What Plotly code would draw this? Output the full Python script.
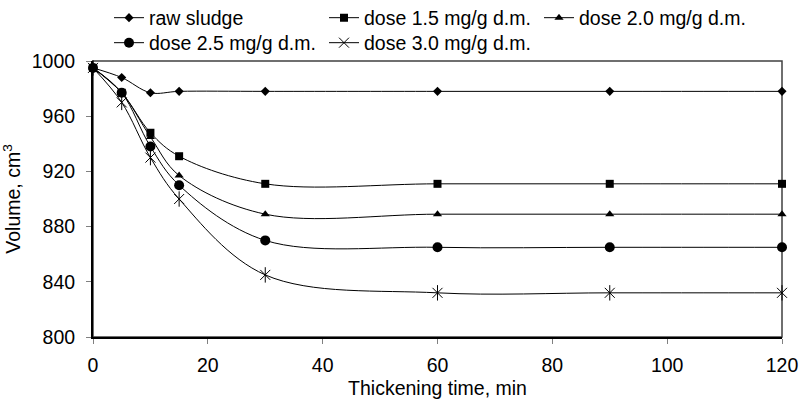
import plotly.graph_objects as go

time_min = [0, 5, 10, 15, 30, 60, 90, 120]
raw_sludge = [995, 988, 977, 978, 978, 978, 978, 978]
dose_1_5 = [995, 977, 948, 931, 911, 911, 911, 911]
dose_2_0 = [995, 977, 945, 917, 889, 889, 889, 889]
dose_2_5 = [995, 977, 938, 910, 870, 865, 865, 865]
dose_3_0 = [995, 970, 930, 900, 845, 832, 832, 832]

series_names = ["raw sludge", "dose 1.5 mg/g d.m.", "dose 2.0 mg/g d.m.",
                "dose 2.5 mg/g d.m.", "dose 3.0 mg/g d.m."]

x_ticks = [0, 20, 40, 60, 80, 100, 120]
y_ticks = [800, 840, 880, 920, 960, 1000]

FONT = "Liberation Sans, Arial, sans-serif"
FS = 19.5

fig = go.Figure()

line_style = dict(color="black", width=1, shape="spline", smoothing=1)

specs = [
    (raw_sludge, series_names[0], dict(symbol="diamond", size=7, color="black"), "legend"),
    (dose_1_5, series_names[1], dict(symbol="square", size=8, color="black"), "legend"),
    (dose_2_0, series_names[2], dict(symbol="triangle-up", size=8, color="black"), "legend"),
    (dose_2_5, series_names[3], dict(symbol="circle", size=10, color="black"), "legend2"),
    (dose_3_0, series_names[4], dict(symbol="x-thin-open", size=10, color="black",
                                     line=dict(color="black", width=1)), "legend2"),
]

for vals, name, marker, leg in specs:
    fig.add_trace(go.Scatter(x=time_min, y=vals, name=name, mode="lines+markers",
                             line=line_style, marker=marker, legend=leg, cliponaxis=False))

# vertical stroke of the star marker for dose 3.0
fig.add_trace(go.Scatter(x=time_min, y=dose_3_0, mode="markers", showlegend=False,
                         legend="legend2", cliponaxis=False,
                         marker=dict(symbol="line-ns-open", size=11, color="black",
                                     line=dict(color="black", width=1))))

legend_common = dict(orientation="h", xref="container", yref="container",
                     xanchor="left", yanchor="middle",
                     font=dict(family=FONT, size=FS, color="black"),
                     bgcolor="rgba(0,0,0,0)", entrywidth=170, entrywidthmode="pixels",
                     itemwidth=30, tracegroupgap=0)

fig.update_layout(
    width=801, height=400,
    margin=dict(l=93, r=19, t=61, b=63, autoexpand=False),
    paper_bgcolor="white", plot_bgcolor="white",
    font=dict(family=FONT, size=FS, color="black"),
    legend=dict(x=109 / 801, y=1 - 18 / 400, **legend_common),
    legend2=dict(x=109 / 801, y=1 - 43 / 400, **legend_common),
    xaxis=dict(range=[0, 120], tickvals=x_ticks, ticks="outside", ticklen=5,
               tickcolor="#808080", tickwidth=1, showline=True, linecolor="black",
               linewidth=2, showgrid=False, zeroline=False, automargin=False,
               ticklabelstandoff=5,
               title=dict(text="Thickening time, min", standoff=6,
                          font=dict(family=FONT, size=FS))),
    yaxis=dict(range=[800, 1000], tickvals=y_ticks, ticks="outside", ticklen=5,
               tickcolor="#808080", tickwidth=1, showline=True, linecolor="black",
               linewidth=2, showgrid=False, zeroline=False, automargin=False,
               ticklabelstandoff=7,
               title=dict(text="Volume, cm<sup>3</sup>", standoff=6,
                          font=dict(family=FONT, size=FS))),
    shapes=[dict(type="rect", xref="paper", yref="paper", x0=0, x1=1, y0=0, y1=1,
                 line=dict(color="#404040", width=1.5), layer="below")],
)

fig.write_html("out.html", config={"displayModeBar": False})

# remove the browser's default page margin so the figure sits at the window's corner
with open("out.html", "r", encoding="utf-8") as f:
    html = f.read()
html = html.replace("<head>", "<head><style>html,body{margin:0;padding:0;}</style>", 1)
with open("out.html", "w", encoding="utf-8") as f:
    f.write(html)
